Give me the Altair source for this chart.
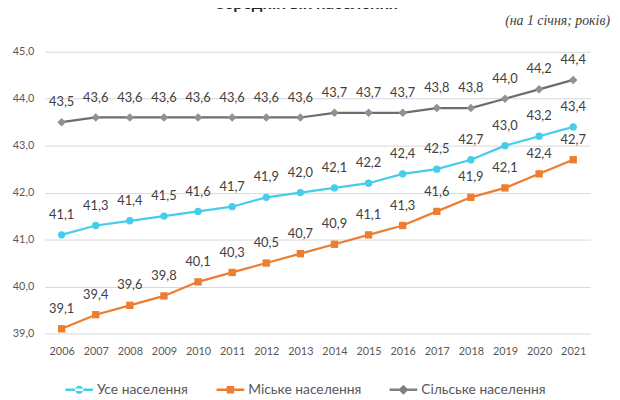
import altair as alt
import pandas as pd

years = list(range(2006, 2022))
series = ["Усе населення", "Міське населення", "Сільське населення"]
all_pop = [41.1, 41.3, 41.4, 41.5, 41.6, 41.7, 41.9, 42.0, 42.1, 42.2, 42.4, 42.5, 42.7, 43.0, 43.2, 43.4]
urban = [39.1, 39.4, 39.6, 39.8, 40.1, 40.3, 40.5, 40.7, 40.9, 41.1, 41.3, 41.6, 41.9, 42.1, 42.4, 42.7]
rural = [43.5, 43.6, 43.6, 43.6, 43.6, 43.6, 43.6, 43.6, 43.7, 43.7, 43.7, 43.8, 43.8, 44.0, 44.2, 44.4]
line_colors = ["#45cdeb", "#ed7d31", "#66706e"]
marker_colors = ["#45cdeb", "#ed7d31", "#8e9392"]
legend_colors = ["#45cdeb", "#ed7d31", "#7b8281"]
shapes = ["circle", "square", "diamond"]
title_text = "Середній вік населення"
subtitle_text = "(на 1 січня; років)"

rows = []
for s, vals in zip(series, [all_pop, urban, rural]):
    for y, v in zip(years, vals):
        rows.append({"year": str(y), "series": s, "value": v})
df = pd.DataFrame(rows)

W, H = 552, 285
FONT = "Lato"

x = alt.X("year:O", title=None,
          scale=alt.Scale(type="point", padding=0.5),
          axis=alt.Axis(labelAngle=0, labelFont=FONT, labelFontSize=11, labelColor="#595959",
                        ticks=False, domain=False, grid=False, labelPadding=12))
y = alt.Y("value:Q", title=None,
          scale=alt.Scale(domain=[39, 45], nice=False, zero=False),
          axis=alt.Axis(values=[39, 40, 41, 42, 43, 44, 45], labelFont=FONT, labelFontSize=11,
                        labelColor="#595959", ticks=False, domain=False, grid=True,
                        gridColor="#d9d9d9", gridWidth=1, labelPadding=11,
                        labelExpr="replace(format(datum.value, '.1f'), '.', ',')"))

circle_p = "M-1,-0.09H1V0.09H-1Z M-0.3,0A0.3,0.3 0 1,0 0.3,0A0.3,0.3 0 1,0 -0.3,0Z"
square_p = "M-1,-0.09H1V0.09H-1Z M-0.27,-0.27H0.27V0.27H-0.27Z"
diamond_p = "M-1,-0.09H1V0.09H-1Z M0,-0.36L0.36,0L0,0.36L-0.36,0Z"

base = alt.Chart(df)

legend_layer = base.mark_point(filled=True, size=0, opacity=1).encode(
    x=x, y=y,
    color=alt.Color("series:N", title=None, scale=alt.Scale(domain=series, range=legend_colors),
                    legend=alt.Legend(orient="none", direction="horizontal", legendX=21, legendY=328,
                                      labelFont=FONT, labelFontSize=14, labelColor="#595959",
                                      symbolSize=784, labelOffset=4, columnPadding=28, padding=0,
                                      symbolStrokeWidth=0, symbolOpacity=1)),
    shape=alt.Shape("series:N", title=None,
                    scale=alt.Scale(domain=series, range=[circle_p, square_p, diamond_p])))

lines = base.mark_line(strokeWidth=2.25).encode(
    x=x, y=y,
    stroke=alt.Stroke("series:N", scale=alt.Scale(domain=series, range=line_colors), legend=None))

point_layers = []
for s, c, shp in zip(series, marker_colors, shapes):
    point_layers.append(
        base.transform_filter(alt.datum.series == s)
        .mark_point(filled=True, size=55 if shp != "diamond" else 75, opacity=1, shape=shp, color=c)
        .encode(x=x, y=y))

labels = base.transform_calculate(
    lab="replace(format(datum.value, '.1f'), '.', ',')"
).mark_text(font=FONT, fontSize=13, color="#404040", dy=-20, baseline="middle").encode(
    x=x, y=y, text="lab:N")

title = alt.Chart(pd.DataFrame({"t": [title_text]})).mark_text(
    font=FONT, fontSize=17, fontWeight="bold", color="#262626", align="center", baseline="alphabetic"
).encode(x=alt.value(264), y=alt.value(-43), text="t:N")
subtitle = alt.Chart(pd.DataFrame({"t": [subtitle_text]})).mark_text(
    font="Liberation Serif", fontSize=14, fontStyle="italic", color="#404040", align="right",
    baseline="middle"
).encode(x=alt.value(572), y=alt.value(-31), text="t:N")

chart = alt.layer(legend_layer, lines, *point_layers, labels, title, subtitle).properties(
    width=W, height=H,
    autosize=alt.AutoSizeParams(type="none"),
    padding={"left": 37, "top": 42, "right": 22, "bottom": 62},
).configure_view(stroke=None)

chart.save("out.html", embed_options={"renderer": "svg", "actions": False})
